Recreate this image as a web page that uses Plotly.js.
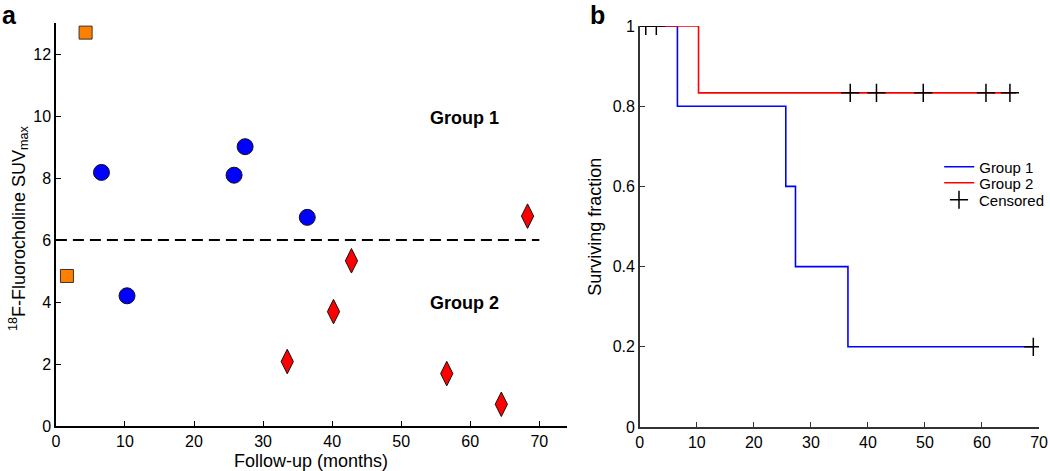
<!DOCTYPE html>
<html>
<head>
<meta charset="utf-8">
<script src="https://cdn.plot.ly/plotly-3.0.1.min.js"></script>
<style>html,body{margin:0;padding:0;background:#fff;}#chart{width:1050px;height:471px;}</style>
</head>
<body>
<div id="chart"></div>
<script>
// Panel a: follow-up (months) vs 18F-Fluorocholine SUVmax
const squareX = [4.3, 1.6];
const squareY = [12.69, 4.84];
const circleX = [6.6, 10.3, 25.8, 27.4, 36.4];
const circleY = [8.18, 4.2, 8.09, 9.01, 6.73];
const diamondX = [33.5, 40.2, 42.8, 56.6, 64.5, 68.3];
const diamondY = [2.08, 3.69, 5.33, 1.69, 0.70, 6.77];
const thresholdX = [0, 70];
const thresholdY = [6, 6];
const groupLabels = ["Group 1", "Group 2"];
const groupLabelX = [59.1, 59.2];
const groupLabelY = [9.95, 3.96];

// Panel b: Kaplan-Meier surviving fraction
const group1X = [0, 6.6, 25.6, 27.3, 36.5, 69.0];
const group1Y = [1, 0.8, 0.6, 0.4, 0.2, 0.2];
const group2X = [0, 10.3, 66.0];
const group2Y = [1, 0.8333, 0.8333];
const censorX = [1.05, 2.9, 36.9, 41.5, 49.7, 60.7, 64.9, 69.0];
const censorY = [1, 1, 0.8333, 0.8333, 0.8333, 0.8333, 0.8333, 0.2];

const xTicksA = [0, 10, 20, 30, 40, 50, 60, 70];
const yTicksA = [0, 2, 4, 6, 8, 10, 12];
const xTicksB = [0, 10, 20, 30, 40, 50, 60, 70];
const yTicksB = [0, 0.2, 0.4, 0.6, 0.8, 1];
const yTickTextB = ["0", "0.2", "0.4", "0.6", "0.8", "1"];

const FONT = "Liberation Sans, Arial, sans-serif";
const W = 1050, H = 471;
const px = v => v / W;
const py = v => (H - v) / H;

const traces = [
  {x: thresholdX, y: thresholdY, xaxis: 'x', yaxis: 'y', mode: 'lines',
   line: {color: '#000', width: 2, dash: '11px,6px'}, showlegend: false, hoverinfo: 'skip'},
  {x: squareX, y: squareY, xaxis: 'x', yaxis: 'y', mode: 'markers', showlegend: false,
   marker: {symbol: 'square', size: 13, color: '#FF8000', line: {color: '#333', width: 1}}},
  {x: circleX, y: circleY, xaxis: 'x', yaxis: 'y', mode: 'markers', showlegend: false,
   marker: {symbol: 'circle', size: 16, color: '#0000FF', line: {color: '#111', width: 1}}},
  {x: diamondX, y: diamondY, xaxis: 'x', yaxis: 'y', mode: 'markers', showlegend: false,
   marker: {symbol: 'diamond-tall', size: 17.5, color: '#FF0000', line: {color: '#111', width: 1}}},
  {x: group1X, y: group1Y, xaxis: 'x2', yaxis: 'y2', mode: 'lines', name: 'Group 1', legend: 'legend',
   line: {color: '#0000FF', width: 1.6, shape: 'hv'}},
  {x: group2X, y: group2Y, xaxis: 'x2', yaxis: 'y2', mode: 'lines', name: 'Group 2', legend: 'legend2',
   line: {color: '#FF0000', width: 1.6, shape: 'hv'}},
  {x: censorX, y: censorY, xaxis: 'x2', yaxis: 'y2', mode: 'markers', name: 'Censored', legend: 'legend3',
   marker: {symbol: 'cross-thin', size: 13, color: '#000', line: {color: '#000', width: 1.5}}}
];

const axisCommon = {
  showgrid: false, zeroline: false, showline: true, ticks: 'inside', ticklen: 5,
  tickwidth: 1, tickfont: {family: FONT, size: 16, color: '#000'}, fixedrange: true
};

const annotations = [
  {text: '<b>a</b>', x: px(10), y: py(15), xref: 'paper', yref: 'paper', showarrow: false,
   font: {family: FONT, size: 25, color: '#000'}, xanchor: 'center', yanchor: 'middle'},
  {text: '<b>b</b>', x: px(599), y: py(15), xref: 'paper', yref: 'paper', showarrow: false,
   font: {family: FONT, size: 25, color: '#000'}, xanchor: 'center', yanchor: 'middle'},
  {text: 'Follow-up (months)', x: px(312), y: py(461), xref: 'paper', yref: 'paper', showarrow: false,
   font: {family: FONT, size: 18, color: '#000'}, xanchor: 'center', yanchor: 'middle'},
  {text: '<sup>18</sup>F-Fluorocholine SUV<sub>max</sub>', x: px(18), y: py(228), xref: 'paper', yref: 'paper',
   showarrow: false, textangle: -90, font: {family: FONT, size: 18, color: '#000'},
   xanchor: 'center', yanchor: 'middle'},
  {text: 'Surviving fraction', x: px(596), y: py(227), xref: 'paper', yref: 'paper',
   showarrow: false, textangle: -90, font: {family: FONT, size: 18, color: '#000'},
   xanchor: 'center', yanchor: 'middle'}
];
groupLabels.forEach((t, i) => annotations.push({
  text: '<b>' + t + '</b>', x: groupLabelX[i], y: groupLabelY[i], xref: 'x', yref: 'y',
  showarrow: false, font: {family: FONT, size: 18, color: '#000'}, xanchor: 'center', yanchor: 'middle'
}));

const legendCommon = {xanchor: 'left', yanchor: 'middle', bgcolor: 'rgba(0,0,0,0)',
  font: {family: FONT, size: 15, color: '#000'}, tracegroupgap: 0};

const layout = {
  width: W, height: H,
  margin: {l: 0, r: 0, t: 0, b: 0},
  paper_bgcolor: '#fff', plot_bgcolor: '#fff',
  font: {family: FONT, color: '#000'},
  showlegend: true,
  legend: Object.assign({}, legendCommon, {x: px(941), y: py(167)}),
  legend2: Object.assign({}, legendCommon, {x: px(941), y: py(183)}),
  legend3: Object.assign({}, legendCommon, {x: px(941), y: py(200)}),
  xaxis: Object.assign({}, axisCommon, {domain: [px(56), px(568)], range: [0, 74], anchor: 'y',
          tickvals: xTicksA, linecolor: '#000', tickcolor: '#000', linewidth: 1.6}),
  yaxis: Object.assign({}, axisCommon, {domain: [py(426), py(23)], range: [0, 13], anchor: 'x',
          tickvals: yTicksA, linecolor: '#000', tickcolor: '#000', linewidth: 1.6}),
  xaxis2: Object.assign({}, axisCommon, {domain: [px(641), px(1041)], range: [0, 70], anchor: 'y2',
          tickvals: xTicksB, linecolor: '#333', tickcolor: '#333', linewidth: 1.6}),
  yaxis2: Object.assign({}, axisCommon, {domain: [py(427), py(26)], range: [0, 1], anchor: 'x2',
          tickvals: yTicksB, ticktext: yTickTextB, linecolor: '#333', tickcolor: '#333', linewidth: 1.6}),
  annotations: annotations
};

Plotly.newPlot('chart', traces, layout, {displayModeBar: false, staticPlot: true});
</script>
</body>
</html>
